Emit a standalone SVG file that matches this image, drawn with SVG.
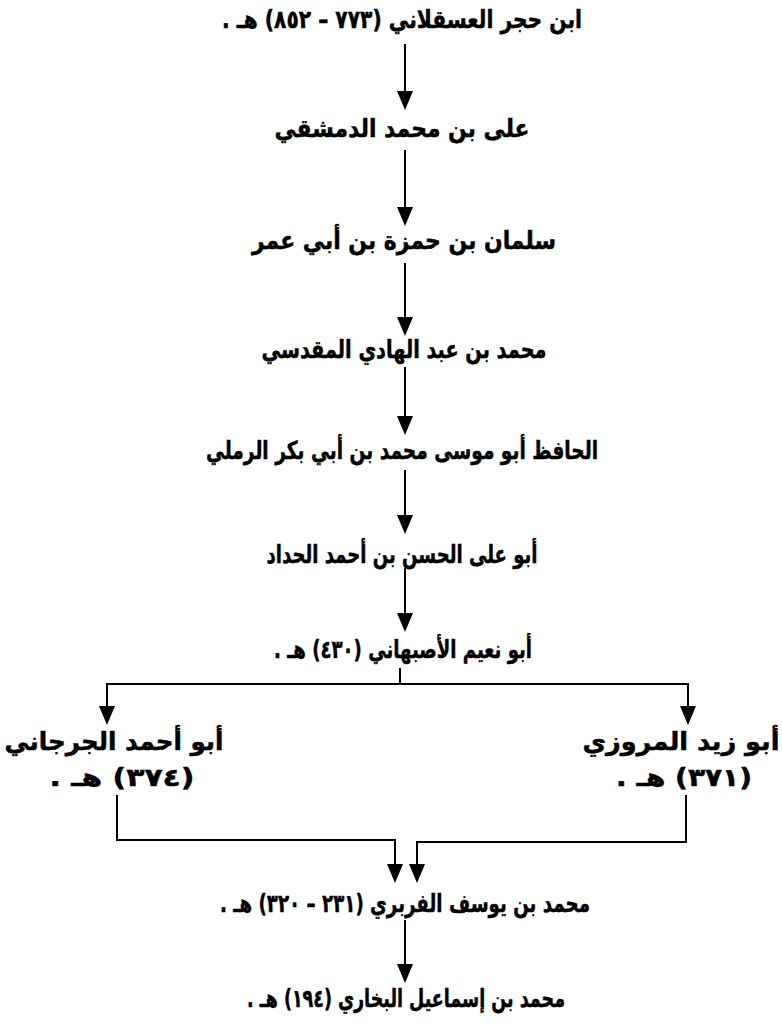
<svg xmlns="http://www.w3.org/2000/svg" width="782" height="1028" viewBox="0 0 782 1028">
<style>
text{font-family:"DejaVu Sans",sans-serif;font-weight:bold;font-size:25px;fill:#000;stroke:#000;stroke-width:0.5;direction:rtl;unicode-bidi:embed;text-anchor:middle}
.ln{stroke:#000;stroke-width:2;fill:none}
</style>
<rect width="782" height="1028" fill="#fff"/>
<g id="connectors">
<line class="ln" x1="405" y1="44" x2="405" y2="92"/><path d="M397,91 L413,91 L405,110 Z"/>
<line class="ln" x1="405" y1="150" x2="405" y2="208"/><path d="M397,207 L413,207 L405,226 Z"/>
<line class="ln" x1="405" y1="263" x2="405" y2="318"/><path d="M397,317 L413,317 L405,336 Z"/>
<line class="ln" x1="405" y1="367" x2="405" y2="417"/><path d="M397,416 L413,416 L405,435 Z"/>
<line class="ln" x1="405" y1="470" x2="405" y2="516"/><path d="M397,515 L413,515 L405,534 Z"/>
<line class="ln" x1="405" y1="568" x2="405" y2="614"/><path d="M397,613 L413,613 L405,632 Z"/>
<polyline class="ln" points="400,668 400,684 107,684 107,707"/><path d="M99,706 L115,706 L107,725 Z"/>
<polyline class="ln" points="400,684 688,684 688,707"/><path d="M680,706 L696,706 L688,725 Z"/>
<polyline class="ln" points="117,795 117,840 395,840 395,865"/><path d="M387,864 L403,864 L395,883 Z"/>
<polyline class="ln" points="686,795 686,842 417,842 417,865"/><path d="M409,864 L425,864 L417,883 Z"/>
<line class="ln" x1="405" y1="920" x2="405" y2="965"/><path d="M397,964 L413,964 L405,983 Z"/>
</g>
<g id="n1"><text x="402" y="28" textLength="360" lengthAdjust="spacingAndGlyphs">ابن حجر العسقلاني (٧٧٣ – ٨٥٢) هـ .</text></g>
<g id="n2"><text x="402" y="137" textLength="255" lengthAdjust="spacingAndGlyphs">على بن محمد الدمشقي</text></g>
<g id="n3"><text x="404" y="249" textLength="304" lengthAdjust="spacingAndGlyphs">سلمان بن حمزة بن أبي عمر</text></g>
<g id="n4"><text x="404" y="358" textLength="285" lengthAdjust="spacingAndGlyphs">محمد بن عبد الهادي المقدسي</text></g>
<g id="n5"><text x="402" y="459" textLength="392" lengthAdjust="spacingAndGlyphs">الحافظ أبو موسى محمد بن أبي بكر الرملي</text></g>
<g id="n6"><text x="402" y="563" textLength="271" lengthAdjust="spacingAndGlyphs">أبو على الحسن بن أحمد الحداد</text></g>
<g id="n7"><text x="403" y="658" textLength="258" lengthAdjust="spacingAndGlyphs">أبو نعيم الأصبهاني (٤٣٠) هـ .</text></g>
<g id="n8"><text x="114" y="750" textLength="219" lengthAdjust="spacingAndGlyphs">أبو أحمد الجرجاني</text><text x="122" y="786" textLength="145" lengthAdjust="spacingAndGlyphs">(٣٧٤) هـ .</text></g>
<g id="n9"><text x="681" y="750" textLength="197" lengthAdjust="spacingAndGlyphs">أبو زيد المروزي</text><text x="684" y="786" textLength="136" lengthAdjust="spacingAndGlyphs">(٣٧١) هـ .</text></g>
<g id="n10"><text x="405" y="912" textLength="370" lengthAdjust="spacingAndGlyphs">محمد بن يوسف الفربري (٢٣١ – ٣٢٠) هـ .</text></g>
<g id="n11"><text x="406" y="1007" textLength="318" lengthAdjust="spacingAndGlyphs">محمد بن إسماعيل البخاري (١٩٤) هـ .</text></g>
</svg>
